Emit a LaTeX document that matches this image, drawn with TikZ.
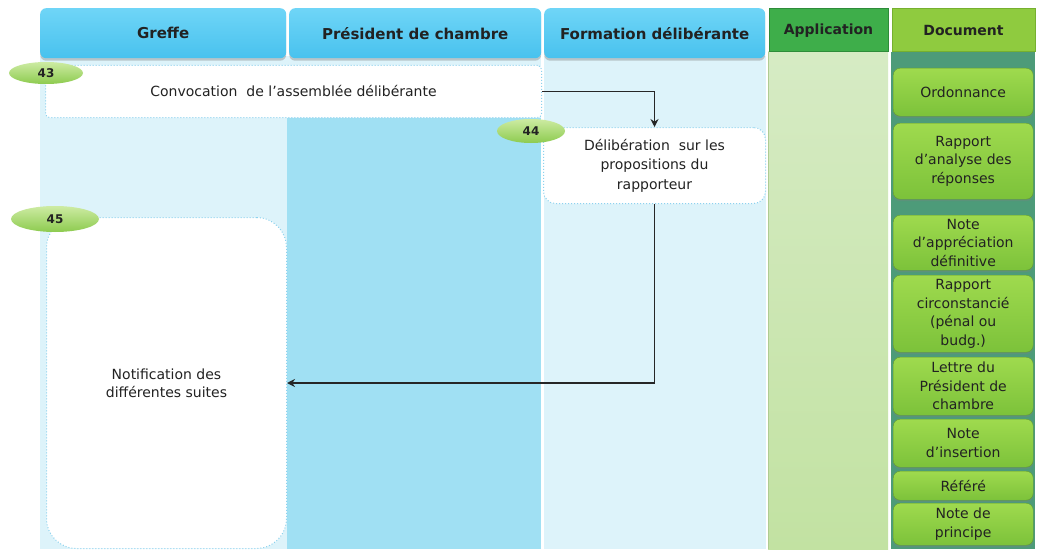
\documentclass[tikz,border=0pt]{standalone}
\usepackage{fontspec}
\setmainfont{DejaVu Sans}
\usetikzlibrary{shadows,arrows.meta,shapes.geometric}
\definecolor{hdrtop}{HTML}{6FD5F7}
\definecolor{hdrbot}{HTML}{48C2EE}
\definecolor{lanelight}{HTML}{DDF3FA}
\definecolor{lanedark}{HTML}{A0E0F3}
\definecolor{apphdr}{HTML}{3EAE4A}
\definecolor{appborder}{HTML}{2E8C3A}
\definecolor{apptop}{HTML}{D6EBC4}
\definecolor{appbot}{HTML}{C2E2A2}
\definecolor{dochdr}{HTML}{8FCB3F}
\definecolor{docborder}{HTML}{76B02F}
\definecolor{doclane}{HTML}{4D9B79}
\definecolor{docboxtop}{HTML}{9FDA4E}
\definecolor{docboxbot}{HTML}{7CC23A}
\definecolor{badgetop}{HTML}{CDEBA3}
\definecolor{badgebot}{HTML}{8DCB4F}
\definecolor{dotblue}{HTML}{8CD2EE}
\definecolor{txt}{HTML}{222222}
\begin{document}
\begin{tikzpicture}[x=1pt,y=-1pt,
  every node/.style={text=txt},
  lanehdr/.style={rounded corners=6pt, top color=hdrtop, bottom color=hdrbot, draw=none,
    drop shadow={shadow xshift=0pt, shadow yshift=-2.5pt, opacity=0.4},
    font=\bfseries\fontsize{15}{17}\selectfont, inner sep=0pt, anchor=north west},
  stepbox/.style={draw=dotblue, dotted, line width=1pt, fill=white, inner sep=2pt,
    align=center, anchor=north west, font=\fontsize{14}{19.5}\selectfont},
  badge/.style={ellipse, top color=badgetop, bottom color=badgebot, draw=none,
    inner sep=0pt, font=\bfseries\fontsize{12}{14}\selectfont},
  docbox/.style={rounded corners=7pt, top color=docboxtop, bottom color=docboxbot,
    draw=docboxbot!80!black, line width=0.4pt, inner sep=1pt, align=center,
    anchor=north west, minimum width=140pt, font=\fontsize{14}{18.5}\selectfont,
    drop shadow={shadow xshift=0pt, shadow yshift=-2pt, opacity=0.3}},
  arr/.style={draw=black!85, line width=1.6pt, -{Stealth[length=8pt,width=8pt]}}
]
\useasboundingbox (0,0) rectangle (1037,551);
\fill[white] (0,0) rectangle (1037,551);
% lanes
\fill[lanelight] (40,56) rectangle (287,549);
\fill[lanelight] (287,56) rectangle (541,118);
\fill[lanedark] (287,118) rectangle (541,549);
\fill[lanelight] (544,56) rectangle (766,549);
\shade[top color=apptop, bottom color=appbot] (768,52) rectangle (888,549);
\draw[appbot!90!black, line width=0.5pt] (768,52) -- (768,549);
\fill[doclane] (891,52) rectangle (1035,549);
% headers
\node[lanehdr, minimum width=246pt, minimum height=50pt] (hgreffe) at (40,8) {Greffe};
\node[lanehdr, minimum width=252pt, minimum height=50pt] (hpres) at (289,8) {Président de chambre};
\node[lanehdr, minimum width=221pt, minimum height=50pt] (hform) at (544,8) {Formation délibérante};
\node[draw=appborder, line width=1pt, fill=apphdr, minimum width=119pt, minimum height=43pt,
  anchor=north west, inner sep=0pt, font=\bfseries\fontsize{14}{16}\selectfont] (happ) at (768.5,8.5) {Application};
\node[draw=docborder, line width=1pt, fill=dochdr, minimum width=143pt, minimum height=43pt,
  anchor=north west, inner sep=0pt, font=\bfseries\fontsize{14}{16}\selectfont] (hdoc) at (891.5,8.5) {Document};
% steps
\node[stepbox, rounded corners=4pt, minimum width=496pt, minimum height=52pt] (conv) at (45,65)
  {Convocation\ \ de l'assemblée délibérante};
\node[stepbox, rounded corners=12pt, minimum width=222pt, minimum height=76pt] (delib) at (543,127)
  {Délibération\ \ sur les\\propositions du\\rapporteur};
\node[stepbox, rounded corners=30pt, minimum width=240pt, minimum height=331pt] (notif) at (46,217)
  {Notification des\\[-1.5pt]différentes suites};
% badges
\node[badge, minimum width=74pt, minimum height=22pt] (b43) at (46,73) {43};
\node[badge, minimum width=68pt, minimum height=24pt] (b44) at (531,131) {44};
\node[badge, minimum width=88pt, minimum height=26pt] (b45) at (55,219) {45};
% connectors
\draw[arr] (conv.east) -| (delib.north);
\draw[arr] (delib.south) |- (notif.east);
% documents
\node[docbox, minimum height=48pt] (d1) at (893,68) {Ordonnance};
\node[docbox, minimum height=76pt] (d2) at (893,123) {Rapport\\d'analyse des\\réponses};
\node[docbox, minimum height=55pt] (d3) at (893,215) {Note\\d'appréciation\\définitive};
\node[docbox, minimum height=77pt] (d4) at (893,275) {Rapport\\circonstancié\\(pénal ou\\budg.)};
\node[docbox, minimum height=58pt] (d5) at (893,357) {Lettre du\\Président de\\chambre};
\node[docbox, minimum height=48pt] (d6) at (893,419) {Note\\d'insertion};
\node[docbox, minimum height=29pt] (d7) at (893,471) {Référé};
\node[docbox, minimum height=42pt] (d8) at (893,503) {Note de\\principe};
\end{tikzpicture}
\end{document}
